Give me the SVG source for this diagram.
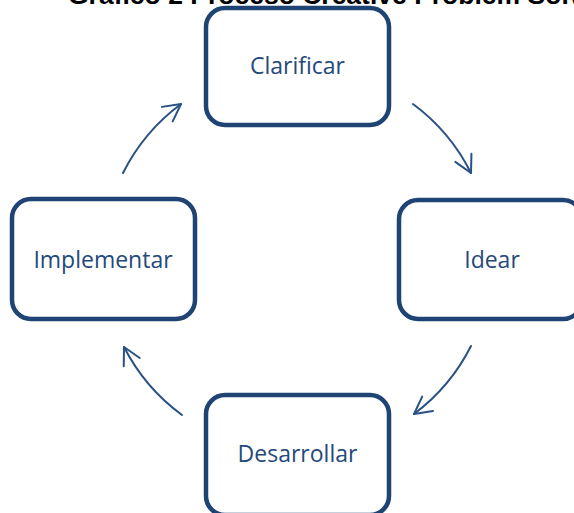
<svg xmlns="http://www.w3.org/2000/svg" width="574" height="513" viewBox="0 0 574 513">
  <style>
    .box { fill: #ffffff; stroke: #1f4373; stroke-width: 4.5; }
    .label { font-family: "Open Sans", "Noto Sans", sans-serif; font-size: 23px; fill: #24497b; text-anchor: middle; }
    .title { font-family: "Liberation Sans", Arial, sans-serif; font-size: 26.5px; font-weight: bold; fill: #000000; }
    .flow { fill: none; stroke: #2a5185; stroke-width: 2; stroke-linecap: round; }
  </style>
  <defs>
    <marker id="open-head" markerUnits="userSpaceOnUse" markerWidth="24" markerHeight="24" viewBox="-20 -12 24 24" refX="0" refY="0" orient="auto" overflow="visible">
      <path d="M -17 -9 L 0 0 L -17 9" fill="none" stroke="#2a5185" stroke-width="2" stroke-linecap="round" stroke-linejoin="round"/>
    </marker>
  </defs>

  <rect width="574" height="513" fill="#ffffff"/>

  <!-- heading, mostly above the top edge -->
  <text class="title" x="68" y="4">Gráfico 2 Proceso Creative Problem Solving</text>

  <g id="connectors">
    <path class="flow" d="M 123 173 A 194 194 0 0 1 181 104" marker-end="url(#open-head)"/>
    <path class="flow" d="M 413 104 A 194 194 0 0 1 471 173" marker-end="url(#open-head)"/>
    <path class="flow" d="M 471 346 A 194 194 0 0 1 414 414" marker-end="url(#open-head)"/>
    <path class="flow" d="M 182 415 A 194 194 0 0 1 124 347" marker-end="url(#open-head)"/>
  </g>

  <g id="clarificar">
    <rect class="box" x="206" y="8" width="183" height="117" rx="19"/>
    <text class="label" x="297.5" y="74">Clarificar</text>
  </g>

  <g id="idear">
    <rect class="box" x="399" y="200" width="183" height="119" rx="19"/>
    <text class="label" x="492" y="268">Idear</text>
  </g>

  <g id="desarrollar">
    <rect class="box" x="206" y="395" width="183" height="120" rx="19"/>
    <text class="label" x="297.5" y="462">Desarrollar</text>
  </g>

  <g id="implementar">
    <rect class="box" x="12" y="199" width="183" height="120" rx="19"/>
    <text class="label" x="103" y="268">Implementar</text>
  </g>
</svg>
